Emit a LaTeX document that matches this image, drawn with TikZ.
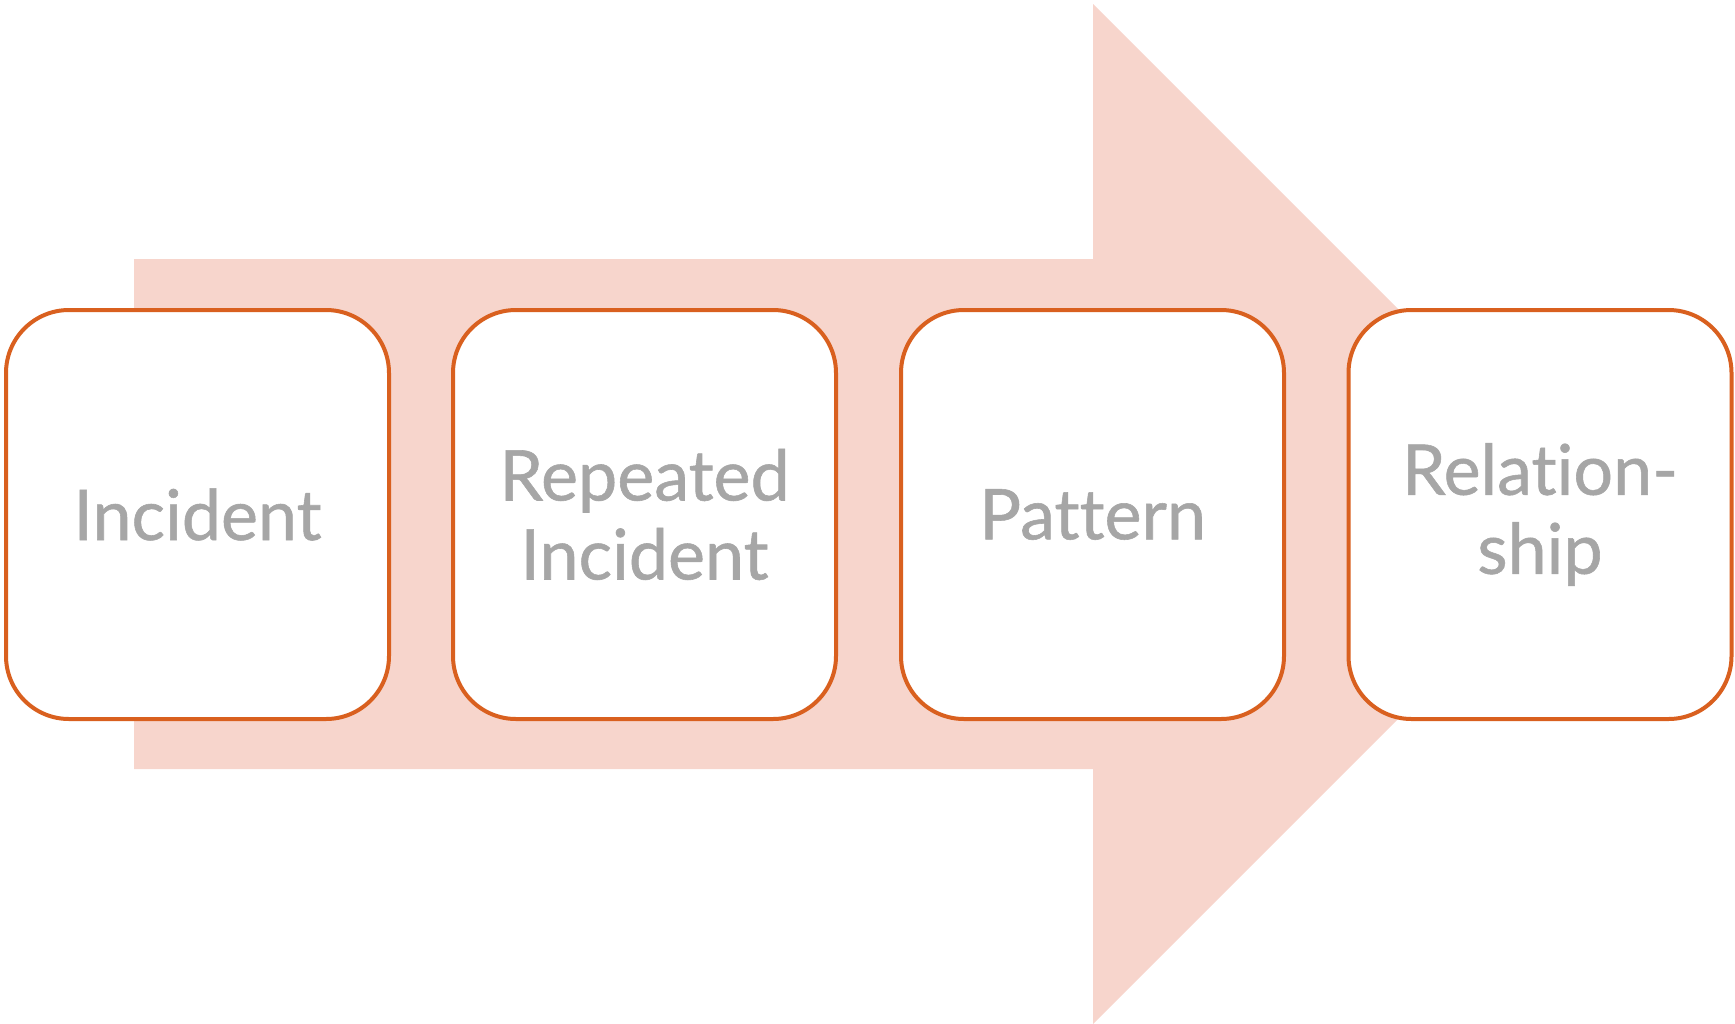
\documentclass[tikz,border=0pt]{standalone}
\usepackage{fontspec}
\setmainfont{Lato}[Ligatures=NoCommon, FakeBold=0.8]
\definecolor{arrowfill}{HTML}{F7D5CC}
\definecolor{boxline}{HTML}{D9601F}
\definecolor{txtgray}{HTML}{A6A6A6}
\begin{document}
\begin{tikzpicture}[x=1pt,y=-1pt,
  stage/.style={draw=boxline, line width=4pt, fill=white, rounded corners=63pt,
    minimum width=383pt, minimum height=409pt, inner sep=0pt, align=center,
    text=txtgray, font=\fontsize{70}{79}\selectfont, anchor=center}]
\useasboundingbox (0,0) rectangle (1735,1023);
\fill[arrowfill] (134,259) -- (1093,259) -- (1093,4) -- (1603,514) -- (1093,1024) -- (1093,769) -- (134,769) -- cycle;
\node[stage] (s1) at (197.5,514.5) {Incident};
\node[stage] (s2) at (644.5,514.5) {Repeated\\Incident};
\node[stage] (s3) at (1092.5,514.5) {Pattern};
\node[stage] (s4) at (1540,514.5) {Relation-\\ship};
\end{tikzpicture}
\end{document}
